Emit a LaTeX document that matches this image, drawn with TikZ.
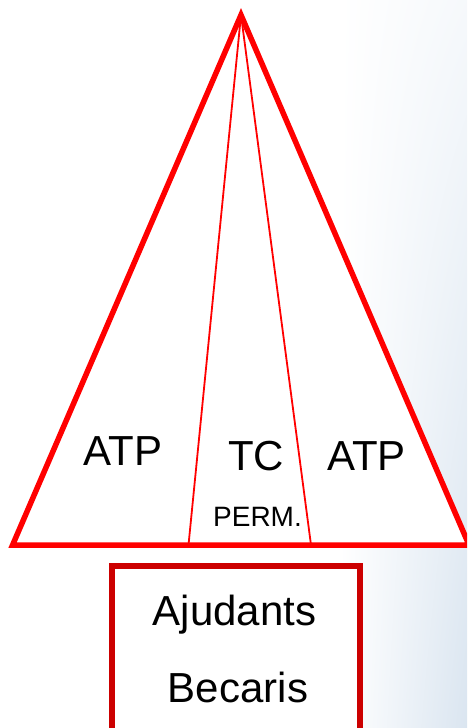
\documentclass[tikz,border=0pt]{standalone}
\usepackage{fontspec}
\setmainfont{Liberation Sans}
\usetikzlibrary{shadings}
\begin{document}
\begin{tikzpicture}[x=1pt,y=-1pt,
  big/.style={inner sep=0pt,anchor=base,font=\fontsize{42}{50}\selectfont},
  small/.style={inner sep=0pt,anchor=base,font=\fontsize{28}{33}\selectfont},
  outer/.style={draw=red,line width=5.5pt,line join=miter},
  inner/.style={draw=red,line width=1.8pt},
  boxline/.style={draw=boxred,line width=6pt}]
\definecolor{boxred}{RGB}{204,0,0}
\definecolor{bgblue}{RGB}{218,229,240}
\useasboundingbox (0,0) rectangle (467,728);
\clip (0,0) rectangle (467,728);
\fill[white] (0,0) rectangle (467,728);
\shade[upper left=white,upper right=bgblue!25,lower left=white,lower right=bgblue] (340,0) rectangle (467,728);
% triangle
\coordinate (apex) at (241,15);
\coordinate (bl) at (12.6,545);
\coordinate (br) at (469,545);
\coordinate (il) at (188.5,545);
\coordinate (ir) at (311,545);
\fill[white] (apex) -- (bl) -- (br) -- cycle;
\draw[inner] (apex) -- (il);
\draw[inner] (apex) -- (ir);
\draw[outer] (apex) -- (bl) -- (br) -- cycle;
% labels
\node[big] (atpl) at (123,465) {ATP};
\node[big] (tc) at (256,470) {TC};
\node[big] (atpr) at (366.5,470) {ATP};
\node[small] (perm) at (257.5,526) {PERM.};
% box
\draw[boxline,fill=white] (112,566) rectangle (360,745);
\node[big] (aj) at (234.5,625) {Ajudants};
\node[big] (bec) at (238,702) {Becaris};
\end{tikzpicture}
\end{document}
